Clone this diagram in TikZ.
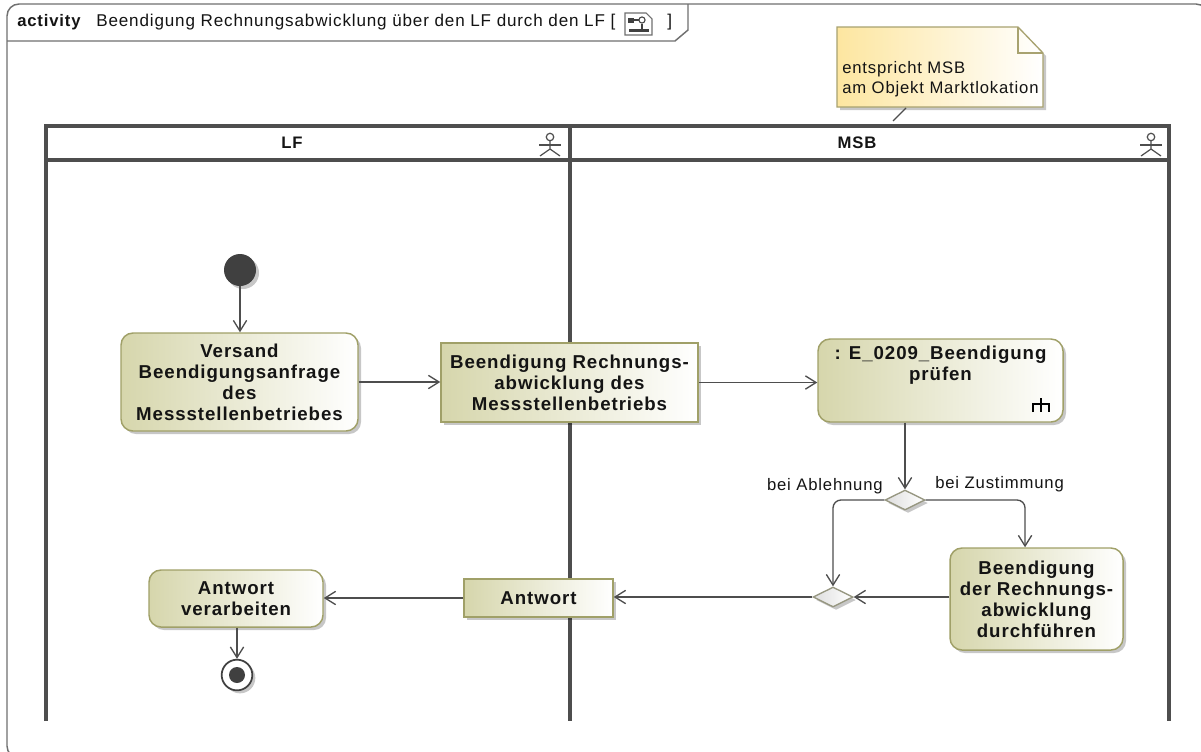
\documentclass[tikz,border=0pt]{standalone}
\usepackage{fontspec}
\setmainfont{Liberation Sans}
\newfontfamily\wfont[LetterSpace=5]{Liberation Sans}
\usetikzlibrary{arrows.meta,shapes.geometric,shadows}
\definecolor{actfill}{RGB}{214,214,172}
\definecolor{actdraw}{RGB}{160,160,104}
\definecolor{lanecol}{RGB}{78,78,78}
\definecolor{arrcol}{RGB}{78,78,78}
\definecolor{notefill}{RGB}{253,230,160}
\definecolor{notedraw}{RGB}{168,162,112}
\definecolor{framecol}{RGB}{112,112,112}
\definecolor{startcol}{RGB}{64,64,64}
\definecolor{diafill}{RGB}{222,222,222}
\definecolor{diadraw}{RGB}{150,150,128}
\definecolor{txtcol}{RGB}{20,20,20}
\newcommand\actf{\wfont\bfseries\fontsize{14pt}{15.75pt}\selectfont}
\newcommand\lblf{\wfont\fontsize{12.5pt}{15pt}\selectfont}
\newcommand\ttlf{\wfont\fontsize{12.8pt}{15pt}\selectfont}
\newcommand\hdrf{\wfont\bfseries\fontsize{12.5pt}{15pt}\selectfont}
\newcommand\actorfig[2]{%
  \draw[lanecol, line width=0.9pt] (#1,#2-6) circle[radius=2.8pt];
  \draw[lanecol, line width=0.9pt] (#1,#2-2) -- (#1,#2+6) -- (#1-10,#2+13);
  \draw[lanecol, line width=0.9pt] (#1,#2+6) -- (#1+10,#2+13);
  \draw[lanecol, line width=0.9pt] (#1-11,#2+2) -- (#1+11,#2+2);}
\begin{document}
\begin{tikzpicture}[x=0.75pt,y=-0.75pt,
  shad/.style={drop shadow={shadow xshift=2.25pt, shadow yshift=-2.25pt, fill=black, opacity=0.22}},
  act/.style={shad, draw=actdraw, line width=1.1pt, rounded corners=9pt, left color=actfill, right color=white, inner sep=0pt, align=center, font=\actf, text=txtcol},
  objn/.style={act, rounded corners=0pt},
  lane/.style={draw=lanecol, line width=2.3pt},
  arr/.style={draw=arrcol, line width=1pt, -{Straight Barb[length=8pt,width=10pt]}},
  lbl/.style={font=\lblf, text=txtcol, inner sep=0pt},
  hdr/.style={font=\hdrf, text=txtcol, inner sep=0pt},
  dia/.style={diamond, aspect=2, draw=diadraw, line width=1pt, left color=diafill, right color=white, minimum width=30pt, minimum height=15pt, inner sep=0pt, shad}]
\useasboundingbox (0,0) rectangle (1201,751);
\fill[white] (0,0) rectangle (1201,751);
% frame
\draw[framecol, line width=1.1pt, rounded corners=9pt] (7,4) rectangle (1208,758);
\draw[framecol, line width=1.1pt] (7,41) -- (675,41) -- (688,30) -- (688,4);
\node[anchor=base west, hdr] (tt1) at (17,26) {activity};
\node[anchor=base west, font=\ttlf, text=txtcol, inner sep=0pt] (tt2) at (96,26) {Beendigung Rechnungsabwicklung über den LF durch den LF [};
\node[anchor=base west, font=\ttlf, text=txtcol, inner sep=0pt] (tt3) at (667,26) {]};
% title icon
\draw[framecol, line width=0.8pt, fill=white] (625,13) -- (646,13) -- (652,19) -- (652,35) -- (625,35) -- cycle;
\fill[startcol] (628,18) rectangle (634,23);
\draw[startcol, line width=0.8pt] (634,20) -- (639,20);
\draw[startcol, line width=0.8pt, fill=white] (642,20) circle[radius=2.3pt];
\draw[startcol, line width=0.9pt] (642,24) -- (642,29);
\fill[startcol] (629,29) rectangle (649,32);
% lanes
\draw[lane] (46,721) -- (46,126) -- (1169,126) -- (1169,721);
\draw[lane] (46,160) -- (1169,160);
\draw[lane] (570,126) -- (570,721);
\node[hdr] (lf) at (292,143) {LF};
\node[hdr] (msb) at (857,143) {MSB};
\actorfig{550}{143}
\actorfig{1151}{143}
% note
\path[shad, draw=notedraw, line width=1pt, left color=notefill, right color=white] (837,27) -- (1018,27) -- (1043,53) -- (1043,107) -- (837,107) -- cycle;
\draw[notedraw, line width=1pt] (1018,27) -- (1018,53) -- (1043,53);
\node[lbl, anchor=west, align=left] (nt) at (842,79) {entspricht MSB\\am Objekt Marktlokation};
\coordinate (na) at (906,108);
\coordinate (nb) at (893,121);
\draw[arrcol, line width=1pt] (na) -- (nb);
% nodes
\node[circle, fill=startcol, minimum size=24pt, inner sep=0pt, shad] (s) at (240,270) {};
\node[act, minimum width=177.75pt, minimum height=73.5pt] (a1) at (239.5,382) {Versand\\Beendigungsanfrage\\des\\Messstellenbetriebes};
\node[objn, minimum width=192.75pt, minimum height=59.25pt] (o1) at (569.5,382.5) {Beendigung Rechnungs-\\abwicklung des\\Messstellenbetriebs};
\node[act, minimum width=183.75pt, minimum height=62.25pt] (a3) at (940.5,380.5) {};
\node[font=\actf, text=txtcol, align=center, inner sep=0pt] (a3t) at (940.5,365) {: E\_0209\_Beendigung\\prüfen};
\draw[black, line width=1.8pt] (1041,398) -- (1041,412) (1033,412) -- (1033,404) -- (1049,404) -- (1049,412);
\node[dia] (d1) at (905,500) {};
\node[dia] (d2) at (833,597) {};
\node[act, minimum width=129.75pt, minimum height=76.5pt] (a4) at (1036.5,599) {Beendigung\\der Rechnungs-\\abwicklung\\durchführen};
\node[objn, minimum width=111.75pt, minimum height=28.5pt] (o2) at (538.5,598) {Antwort};
\node[act, minimum width=130.5pt, minimum height=42.75pt] (a5) at (236,598.5) {Antwort\\verarbeiten};
\node[circle, draw=startcol, line width=1.3pt, fill=white, minimum size=23pt, inner sep=0pt, shad] (f) at (237,675) {};
\node[circle, fill=startcol, minimum size=12pt, inner sep=0pt] (fi) at (f) {};
% labels
\node[lbl, anchor=east] (lab1) at (883,486) {bei Ablehnung};
\node[lbl, anchor=west] (lab2) at (935,484) {bei Zustimmung};
% connectors
\draw[arr] (s) -- (s |- a1.north);
\draw[arr] (a1.east) -- (a1.east -| o1.west);
\draw[arr] (o1.east) -- (o1.east -| a3.west);
\draw[arr] (d1 |- a3.south) -- (d1.north);
\draw[arr, rounded corners=6pt] (d1.west) -| (d2.north);
\draw[arr, rounded corners=6pt] (d1.east) -| ([xshift=-8.6pt]a4.north);
\draw[arr] (a4.west |- d2.east) -- (d2.east);
\draw[arr] (d2.west) -- (d2.west -| o2.east);
\draw[arr] (o2.west) -- (o2.west -| a5.east);
\draw[arr] (f |- a5.south) -- (f.north);
\end{tikzpicture}
\end{document}
